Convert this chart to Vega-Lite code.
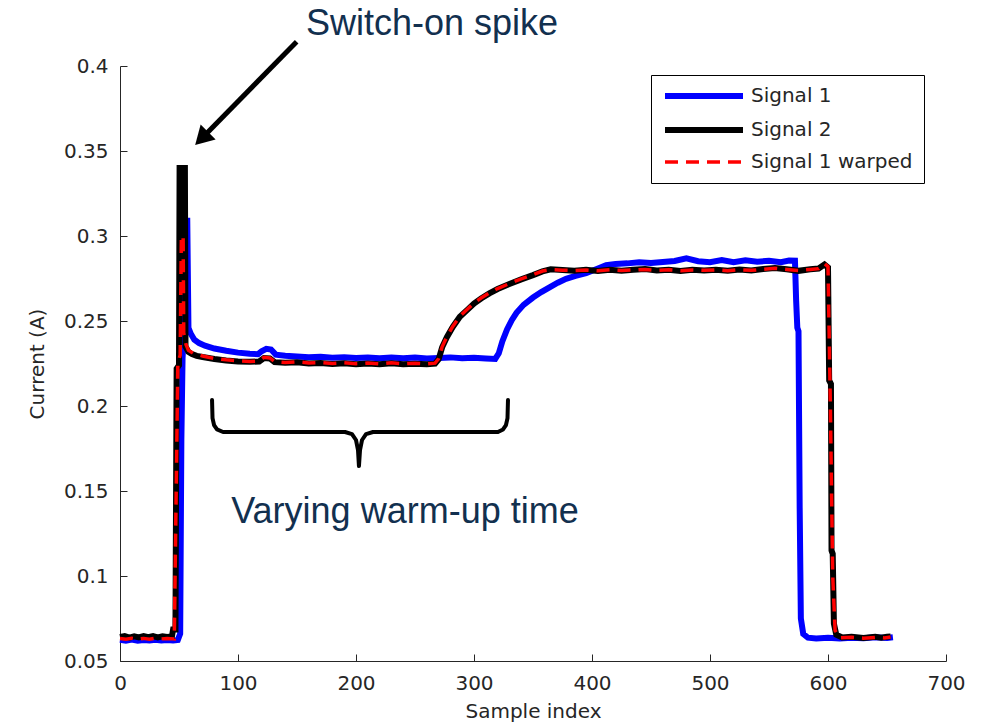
{
  "$schema": "https://vega.github.io/schema/vega-lite/v6.json",
  "width": 826,
  "height": 595,
  "autosize": {"type": "none"},
  "padding": {"left": 120, "top": 66, "right": 46, "bottom": 62},
  "background": "white",
  "config": {
    "view": {"stroke": null},
    "axis": {
      "grid": false,
      "domainColor": "#262626",
      "tickColor": "#262626",
      "tickSize": -7,
      "labelPadding": 19,
      "labelFont": "DejaVu Sans",
      "labelFontSize": 20,
      "labelColor": "#262626",
      "labelFlush": false,
      "labelOverlap": false,
      "labelBound": false,
      "titleFont": "DejaVu Sans",
      "titleFontSize": 20,
      "titleFontWeight": "normal",
      "titleColor": "#262626"
    }
  },
  "datasets": {
    "signals": [
      {"series": "Signal 1", "sample": 0, "current": 0.0625},
      {"series": "Signal 1", "sample": 5, "current": 0.062},
      {"series": "Signal 1", "sample": 10, "current": 0.0626},
      {"series": "Signal 1", "sample": 15, "current": 0.0619},
      {"series": "Signal 1", "sample": 20, "current": 0.0624},
      {"series": "Signal 1", "sample": 25, "current": 0.062},
      {"series": "Signal 1", "sample": 30, "current": 0.0625},
      {"series": "Signal 1", "sample": 35, "current": 0.0621},
      {"series": "Signal 1", "sample": 40, "current": 0.0624},
      {"series": "Signal 1", "sample": 45, "current": 0.062},
      {"series": "Signal 1", "sample": 49, "current": 0.0624},
      {"series": "Signal 1", "sample": 51, "current": 0.066},
      {"series": "Signal 1", "sample": 52, "current": 0.18},
      {"series": "Signal 1", "sample": 53, "current": 0.228},
      {"series": "Signal 1", "sample": 54, "current": 0.24},
      {"series": "Signal 1", "sample": 55, "current": 0.309},
      {"series": "Signal 1", "sample": 57, "current": 0.309},
      {"series": "Signal 1", "sample": 58, "current": 0.246},
      {"series": "Signal 1", "sample": 60, "current": 0.2425},
      {"series": "Signal 1", "sample": 63, "current": 0.239},
      {"series": "Signal 1", "sample": 67, "current": 0.237},
      {"series": "Signal 1", "sample": 72, "current": 0.2355},
      {"series": "Signal 1", "sample": 80, "current": 0.2338},
      {"series": "Signal 1", "sample": 90, "current": 0.2325},
      {"series": "Signal 1", "sample": 100, "current": 0.2314},
      {"series": "Signal 1", "sample": 110, "current": 0.2307},
      {"series": "Signal 1", "sample": 117, "current": 0.2305},
      {"series": "Signal 1", "sample": 120, "current": 0.2322},
      {"series": "Signal 1", "sample": 124, "current": 0.2336},
      {"series": "Signal 1", "sample": 128, "current": 0.2332},
      {"series": "Signal 1", "sample": 132, "current": 0.2302},
      {"series": "Signal 1", "sample": 140, "current": 0.2296},
      {"series": "Signal 1", "sample": 150, "current": 0.2291},
      {"series": "Signal 1", "sample": 160, "current": 0.2287},
      {"series": "Signal 1", "sample": 170, "current": 0.2289},
      {"series": "Signal 1", "sample": 180, "current": 0.2284},
      {"series": "Signal 1", "sample": 190, "current": 0.2287},
      {"series": "Signal 1", "sample": 200, "current": 0.2282},
      {"series": "Signal 1", "sample": 210, "current": 0.2285},
      {"series": "Signal 1", "sample": 220, "current": 0.2281},
      {"series": "Signal 1", "sample": 230, "current": 0.2285},
      {"series": "Signal 1", "sample": 240, "current": 0.2281},
      {"series": "Signal 1", "sample": 250, "current": 0.2285},
      {"series": "Signal 1", "sample": 260, "current": 0.228},
      {"series": "Signal 1", "sample": 270, "current": 0.2283},
      {"series": "Signal 1", "sample": 280, "current": 0.2286},
      {"series": "Signal 1", "sample": 290, "current": 0.2281},
      {"series": "Signal 1", "sample": 300, "current": 0.2284},
      {"series": "Signal 1", "sample": 310, "current": 0.228},
      {"series": "Signal 1", "sample": 318, "current": 0.2277},
      {"series": "Signal 1", "sample": 321, "current": 0.231},
      {"series": "Signal 1", "sample": 324, "current": 0.238},
      {"series": "Signal 1", "sample": 328, "current": 0.245},
      {"series": "Signal 1", "sample": 332, "current": 0.2505},
      {"series": "Signal 1", "sample": 336, "current": 0.2548},
      {"series": "Signal 1", "sample": 342, "current": 0.2595},
      {"series": "Signal 1", "sample": 350, "current": 0.2638},
      {"series": "Signal 1", "sample": 357, "current": 0.267},
      {"series": "Signal 1", "sample": 364, "current": 0.2698},
      {"series": "Signal 1", "sample": 371, "current": 0.2725},
      {"series": "Signal 1", "sample": 378, "current": 0.2748},
      {"series": "Signal 1", "sample": 386, "current": 0.2765},
      {"series": "Signal 1", "sample": 395, "current": 0.2782},
      {"series": "Signal 1", "sample": 404, "current": 0.2806},
      {"series": "Signal 1", "sample": 412, "current": 0.2828},
      {"series": "Signal 1", "sample": 420, "current": 0.2836},
      {"series": "Signal 1", "sample": 430, "current": 0.2839},
      {"series": "Signal 1", "sample": 440, "current": 0.2846},
      {"series": "Signal 1", "sample": 450, "current": 0.2841},
      {"series": "Signal 1", "sample": 460, "current": 0.2847},
      {"series": "Signal 1", "sample": 470, "current": 0.2853},
      {"series": "Signal 1", "sample": 480, "current": 0.2868},
      {"series": "Signal 1", "sample": 490, "current": 0.2852},
      {"series": "Signal 1", "sample": 500, "current": 0.2846},
      {"series": "Signal 1", "sample": 510, "current": 0.2859},
      {"series": "Signal 1", "sample": 520, "current": 0.2846},
      {"series": "Signal 1", "sample": 530, "current": 0.2857},
      {"series": "Signal 1", "sample": 540, "current": 0.2849},
      {"series": "Signal 1", "sample": 550, "current": 0.2854},
      {"series": "Signal 1", "sample": 560, "current": 0.2846},
      {"series": "Signal 1", "sample": 567, "current": 0.2856},
      {"series": "Signal 1", "sample": 572, "current": 0.2855},
      {"series": "Signal 1", "sample": 573, "current": 0.262},
      {"series": "Signal 1", "sample": 574, "current": 0.246},
      {"series": "Signal 1", "sample": 575, "current": 0.244},
      {"series": "Signal 1", "sample": 576, "current": 0.14},
      {"series": "Signal 1", "sample": 577, "current": 0.075},
      {"series": "Signal 1", "sample": 579, "current": 0.066},
      {"series": "Signal 1", "sample": 583, "current": 0.0637},
      {"series": "Signal 1", "sample": 590, "current": 0.0633},
      {"series": "Signal 1", "sample": 600, "current": 0.0637},
      {"series": "Signal 1", "sample": 610, "current": 0.0632},
      {"series": "Signal 1", "sample": 620, "current": 0.0637},
      {"series": "Signal 1", "sample": 630, "current": 0.0634},
      {"series": "Signal 1", "sample": 640, "current": 0.0639},
      {"series": "Signal 1", "sample": 650, "current": 0.0636},
      {"series": "Signal 1", "sample": 655, "current": 0.064},

      {"series": "Signal 2", "sample": 0, "current": 0.0641},
      {"series": "Signal 2", "sample": 4, "current": 0.0646},
      {"series": "Signal 2", "sample": 8, "current": 0.0638},
      {"series": "Signal 2", "sample": 12, "current": 0.0645},
      {"series": "Signal 2", "sample": 16, "current": 0.0639},
      {"series": "Signal 2", "sample": 20, "current": 0.0647},
      {"series": "Signal 2", "sample": 24, "current": 0.064},
      {"series": "Signal 2", "sample": 28, "current": 0.0646},
      {"series": "Signal 2", "sample": 32, "current": 0.0639},
      {"series": "Signal 2", "sample": 36, "current": 0.0645},
      {"series": "Signal 2", "sample": 40, "current": 0.0641},
      {"series": "Signal 2", "sample": 44, "current": 0.0644},
      {"series": "Signal 2", "sample": 45, "current": 0.0685},
      {"series": "Signal 2", "sample": 47, "current": 0.0685},
      {"series": "Signal 2", "sample": 48, "current": 0.222},
      {"series": "Signal 2", "sample": 50, "current": 0.224},
      {"series": "Signal 2", "sample": 50.5, "current": 0.34},
      {"series": "Signal 2", "sample": 55, "current": 0.34},
      {"series": "Signal 2", "sample": 55.5, "current": 0.235},
      {"series": "Signal 2", "sample": 58, "current": 0.2318},
      {"series": "Signal 2", "sample": 61, "current": 0.2305},
      {"series": "Signal 2", "sample": 65, "current": 0.2295},
      {"series": "Signal 2", "sample": 70, "current": 0.2288},
      {"series": "Signal 2", "sample": 80, "current": 0.2276},
      {"series": "Signal 2", "sample": 90, "current": 0.2268},
      {"series": "Signal 2", "sample": 100, "current": 0.2262},
      {"series": "Signal 2", "sample": 110, "current": 0.226},
      {"series": "Signal 2", "sample": 118, "current": 0.2262},
      {"series": "Signal 2", "sample": 122, "current": 0.2282},
      {"series": "Signal 2", "sample": 127, "current": 0.228},
      {"series": "Signal 2", "sample": 131, "current": 0.2258},
      {"series": "Signal 2", "sample": 140, "current": 0.2254},
      {"series": "Signal 2", "sample": 150, "current": 0.2257},
      {"series": "Signal 2", "sample": 160, "current": 0.225},
      {"series": "Signal 2", "sample": 170, "current": 0.2253},
      {"series": "Signal 2", "sample": 180, "current": 0.2247},
      {"series": "Signal 2", "sample": 190, "current": 0.2251},
      {"series": "Signal 2", "sample": 200, "current": 0.2246},
      {"series": "Signal 2", "sample": 210, "current": 0.225},
      {"series": "Signal 2", "sample": 220, "current": 0.2245},
      {"series": "Signal 2", "sample": 230, "current": 0.2251},
      {"series": "Signal 2", "sample": 240, "current": 0.2246},
      {"series": "Signal 2", "sample": 250, "current": 0.2249},
      {"series": "Signal 2", "sample": 260, "current": 0.2245},
      {"series": "Signal 2", "sample": 267, "current": 0.2249},
      {"series": "Signal 2", "sample": 270, "current": 0.2275},
      {"series": "Signal 2", "sample": 273, "current": 0.2345},
      {"series": "Signal 2", "sample": 277, "current": 0.2405},
      {"series": "Signal 2", "sample": 282, "current": 0.2465},
      {"series": "Signal 2", "sample": 288, "current": 0.2525},
      {"series": "Signal 2", "sample": 295, "current": 0.257},
      {"series": "Signal 2", "sample": 300, "current": 0.2603},
      {"series": "Signal 2", "sample": 306, "current": 0.2632},
      {"series": "Signal 2", "sample": 313, "current": 0.2662},
      {"series": "Signal 2", "sample": 320, "current": 0.2688},
      {"series": "Signal 2", "sample": 330, "current": 0.2718},
      {"series": "Signal 2", "sample": 340, "current": 0.2745},
      {"series": "Signal 2", "sample": 350, "current": 0.277},
      {"series": "Signal 2", "sample": 358, "current": 0.2792},
      {"series": "Signal 2", "sample": 365, "current": 0.2804},
      {"series": "Signal 2", "sample": 375, "current": 0.28},
      {"series": "Signal 2", "sample": 385, "current": 0.2796},
      {"series": "Signal 2", "sample": 395, "current": 0.2801},
      {"series": "Signal 2", "sample": 405, "current": 0.2794},
      {"series": "Signal 2", "sample": 415, "current": 0.2802},
      {"series": "Signal 2", "sample": 425, "current": 0.2796},
      {"series": "Signal 2", "sample": 435, "current": 0.2801},
      {"series": "Signal 2", "sample": 445, "current": 0.2806},
      {"series": "Signal 2", "sample": 455, "current": 0.2797},
      {"series": "Signal 2", "sample": 465, "current": 0.2802},
      {"series": "Signal 2", "sample": 475, "current": 0.2794},
      {"series": "Signal 2", "sample": 485, "current": 0.2801},
      {"series": "Signal 2", "sample": 495, "current": 0.2797},
      {"series": "Signal 2", "sample": 505, "current": 0.2802},
      {"series": "Signal 2", "sample": 515, "current": 0.2795},
      {"series": "Signal 2", "sample": 525, "current": 0.2803},
      {"series": "Signal 2", "sample": 535, "current": 0.2797},
      {"series": "Signal 2", "sample": 545, "current": 0.2806},
      {"series": "Signal 2", "sample": 555, "current": 0.2812},
      {"series": "Signal 2", "sample": 565, "current": 0.2804},
      {"series": "Signal 2", "sample": 575, "current": 0.2795},
      {"series": "Signal 2", "sample": 585, "current": 0.2804},
      {"series": "Signal 2", "sample": 592, "current": 0.2809},
      {"series": "Signal 2", "sample": 597, "current": 0.2832},
      {"series": "Signal 2", "sample": 600, "current": 0.2815},
      {"series": "Signal 2", "sample": 601, "current": 0.215},
      {"series": "Signal 2", "sample": 602.5, "current": 0.213},
      {"series": "Signal 2", "sample": 603, "current": 0.115},
      {"series": "Signal 2", "sample": 604, "current": 0.113},
      {"series": "Signal 2", "sample": 605, "current": 0.072},
      {"series": "Signal 2", "sample": 607, "current": 0.0655},
      {"series": "Signal 2", "sample": 612, "current": 0.0638},
      {"series": "Signal 2", "sample": 620, "current": 0.0643},
      {"series": "Signal 2", "sample": 630, "current": 0.0636},
      {"series": "Signal 2", "sample": 640, "current": 0.0642},
      {"series": "Signal 2", "sample": 645, "current": 0.0637},
      {"series": "Signal 2", "sample": 650, "current": 0.0643},
      {"series": "Signal 2", "sample": 653, "current": 0.0644},

      {"series": "Signal 1 warped", "sample": 0, "current": 0.0632},
      {"series": "Signal 1 warped", "sample": 5, "current": 0.0628},
      {"series": "Signal 1 warped", "sample": 10, "current": 0.0634},
      {"series": "Signal 1 warped", "sample": 15, "current": 0.0629},
      {"series": "Signal 1 warped", "sample": 20, "current": 0.0633},
      {"series": "Signal 1 warped", "sample": 25, "current": 0.0628},
      {"series": "Signal 1 warped", "sample": 30, "current": 0.0634},
      {"series": "Signal 1 warped", "sample": 35, "current": 0.063},
      {"series": "Signal 1 warped", "sample": 40, "current": 0.0633},
      {"series": "Signal 1 warped", "sample": 46, "current": 0.063},
      {"series": "Signal 1 warped", "sample": 48, "current": 0.17},
      {"series": "Signal 1 warped", "sample": 49, "current": 0.225},
      {"series": "Signal 1 warped", "sample": 51, "current": 0.23},
      {"series": "Signal 1 warped", "sample": 52, "current": 0.3},
      {"series": "Signal 1 warped", "sample": 53.5, "current": 0.3},
      {"series": "Signal 1 warped", "sample": 54, "current": 0.243},
      {"series": "Signal 1 warped", "sample": 56, "current": 0.236},
      {"series": "Signal 1 warped", "sample": 58, "current": 0.2328},
      {"series": "Signal 1 warped", "sample": 62, "current": 0.231},
      {"series": "Signal 1 warped", "sample": 70, "current": 0.2294},
      {"series": "Signal 1 warped", "sample": 80, "current": 0.228},
      {"series": "Signal 1 warped", "sample": 90, "current": 0.2272},
      {"series": "Signal 1 warped", "sample": 100, "current": 0.2266},
      {"series": "Signal 1 warped", "sample": 110, "current": 0.2262},
      {"series": "Signal 1 warped", "sample": 118, "current": 0.2265},
      {"series": "Signal 1 warped", "sample": 122, "current": 0.2286},
      {"series": "Signal 1 warped", "sample": 127, "current": 0.2283},
      {"series": "Signal 1 warped", "sample": 131, "current": 0.2261},
      {"series": "Signal 1 warped", "sample": 140, "current": 0.2256},
      {"series": "Signal 1 warped", "sample": 150, "current": 0.226},
      {"series": "Signal 1 warped", "sample": 160, "current": 0.2253},
      {"series": "Signal 1 warped", "sample": 170, "current": 0.2256},
      {"series": "Signal 1 warped", "sample": 180, "current": 0.225},
      {"series": "Signal 1 warped", "sample": 190, "current": 0.2254},
      {"series": "Signal 1 warped", "sample": 200, "current": 0.2249},
      {"series": "Signal 1 warped", "sample": 210, "current": 0.2253},
      {"series": "Signal 1 warped", "sample": 220, "current": 0.2248},
      {"series": "Signal 1 warped", "sample": 230, "current": 0.2254},
      {"series": "Signal 1 warped", "sample": 240, "current": 0.2249},
      {"series": "Signal 1 warped", "sample": 250, "current": 0.2252},
      {"series": "Signal 1 warped", "sample": 260, "current": 0.2248},
      {"series": "Signal 1 warped", "sample": 267, "current": 0.2252},
      {"series": "Signal 1 warped", "sample": 270, "current": 0.2278},
      {"series": "Signal 1 warped", "sample": 273, "current": 0.2348},
      {"series": "Signal 1 warped", "sample": 277, "current": 0.2408},
      {"series": "Signal 1 warped", "sample": 282, "current": 0.2468},
      {"series": "Signal 1 warped", "sample": 288, "current": 0.2528},
      {"series": "Signal 1 warped", "sample": 295, "current": 0.2573},
      {"series": "Signal 1 warped", "sample": 300, "current": 0.2606},
      {"series": "Signal 1 warped", "sample": 306, "current": 0.2635},
      {"series": "Signal 1 warped", "sample": 313, "current": 0.2665},
      {"series": "Signal 1 warped", "sample": 320, "current": 0.2691},
      {"series": "Signal 1 warped", "sample": 330, "current": 0.272},
      {"series": "Signal 1 warped", "sample": 340, "current": 0.2748},
      {"series": "Signal 1 warped", "sample": 350, "current": 0.2772},
      {"series": "Signal 1 warped", "sample": 358, "current": 0.2794},
      {"series": "Signal 1 warped", "sample": 365, "current": 0.2802},
      {"series": "Signal 1 warped", "sample": 375, "current": 0.2799},
      {"series": "Signal 1 warped", "sample": 385, "current": 0.2797},
      {"series": "Signal 1 warped", "sample": 395, "current": 0.28},
      {"series": "Signal 1 warped", "sample": 405, "current": 0.2795},
      {"series": "Signal 1 warped", "sample": 415, "current": 0.2801},
      {"series": "Signal 1 warped", "sample": 425, "current": 0.2797},
      {"series": "Signal 1 warped", "sample": 435, "current": 0.28},
      {"series": "Signal 1 warped", "sample": 445, "current": 0.2803},
      {"series": "Signal 1 warped", "sample": 455, "current": 0.2798},
      {"series": "Signal 1 warped", "sample": 465, "current": 0.2801},
      {"series": "Signal 1 warped", "sample": 475, "current": 0.2796},
      {"series": "Signal 1 warped", "sample": 485, "current": 0.28},
      {"series": "Signal 1 warped", "sample": 495, "current": 0.2798},
      {"series": "Signal 1 warped", "sample": 505, "current": 0.2801},
      {"series": "Signal 1 warped", "sample": 515, "current": 0.2796},
      {"series": "Signal 1 warped", "sample": 525, "current": 0.2802},
      {"series": "Signal 1 warped", "sample": 535, "current": 0.2798},
      {"series": "Signal 1 warped", "sample": 545, "current": 0.2804},
      {"series": "Signal 1 warped", "sample": 555, "current": 0.281},
      {"series": "Signal 1 warped", "sample": 565, "current": 0.2803},
      {"series": "Signal 1 warped", "sample": 575, "current": 0.2797},
      {"series": "Signal 1 warped", "sample": 585, "current": 0.2803},
      {"series": "Signal 1 warped", "sample": 592, "current": 0.2808},
      {"series": "Signal 1 warped", "sample": 597, "current": 0.2838},
      {"series": "Signal 1 warped", "sample": 600, "current": 0.282},
      {"series": "Signal 1 warped", "sample": 602, "current": 0.2},
      {"series": "Signal 1 warped", "sample": 604, "current": 0.1},
      {"series": "Signal 1 warped", "sample": 606, "current": 0.068},
      {"series": "Signal 1 warped", "sample": 610, "current": 0.0636},
      {"series": "Signal 1 warped", "sample": 620, "current": 0.064},
      {"series": "Signal 1 warped", "sample": 630, "current": 0.0634},
      {"series": "Signal 1 warped", "sample": 640, "current": 0.0639},
      {"series": "Signal 1 warped", "sample": 648, "current": 0.0636},
      {"series": "Signal 1 warped", "sample": 653, "current": 0.0641}
    ],
    "arrow": [
      {"sample": 149.7, "current": 0.4143, "order": 1},
      {"sample": 69.2, "current": 0.3573, "order": 2}
    ],
    "arrowhead": [
      {"sample": 69.2, "current": 0.3573}
    ],
    "brace": [
      {"order": 1, "sample": 78.0, "current": 0.2035},
      {"order": 2, "sample": 78.4, "current": 0.1929},
      {"order": 3, "sample": 79.7, "current": 0.1888},
      {"order": 4, "sample": 82.2, "current": 0.1862},
      {"order": 5, "sample": 87.3, "current": 0.1847},
      {"order": 6, "sample": 190.7, "current": 0.1847},
      {"order": 7, "sample": 196.6, "current": 0.1835},
      {"order": 8, "sample": 200.0, "current": 0.18},
      {"order": 9, "sample": 201.7, "current": 0.1741},
      {"order": 10, "sample": 202.5, "current": 0.1647},
      {"order": 11, "sample": 203.4, "current": 0.1741},
      {"order": 12, "sample": 205.1, "current": 0.18},
      {"order": 13, "sample": 208.5, "current": 0.1835},
      {"order": 14, "sample": 214.4, "current": 0.1847},
      {"order": 15, "sample": 320.3, "current": 0.1847},
      {"order": 16, "sample": 324.6, "current": 0.1862},
      {"order": 17, "sample": 327.1, "current": 0.1888},
      {"order": 18, "sample": 328.4, "current": 0.1929},
      {"order": 19, "sample": 328.8, "current": 0.2035}
    ],
    "notes": [
      {"sample": 264.4, "current": 0.4182, "text": "Switch-on spike"},
      {"sample": 241.5, "current": 0.1312, "text": "Varying warm-up time"}
    ]
  },
  "layer": [
    {
      "data": {"name": "signals"},
      "transform": [{"filter": "datum.series === 'Signal 1'"}],
      "mark": {"type": "line", "strokeWidth": 6},
      "encoding": {
        "x": {"field": "sample", "type": "quantitative", "title": "Sample index",
              "scale": {"domain": [0, 700], "nice": false},
              "axis": {"values": [0, 100, 200, 300, 400, 500, 600, 700], "format": "d", "titlePadding": 8}},
        "y": {"field": "current", "type": "quantitative", "title": "Current (A)",
              "scale": {"domain": [0.05, 0.4], "nice": false, "zero": false},
              "axis": {"values": [0.05, 0.1, 0.15, 0.2, 0.25, 0.3, 0.35, 0.4], "format": ".2~f", "titlePadding": 16}},
        "color": {"field": "series", "type": "nominal",
                  "scale": {"domain": ["Signal 1", "Signal 2", "Signal 1 warped"], "range": ["#0000ff", "#000000", "#ff0000"]},
                  "legend": {"orient": "none", "legendX": 531, "legendY": 9, "title": null,
                             "symbolType": "stroke", "symbolSize": 6084, "symbolStrokeWidth": 6,
                             "symbolOffset": 32,
                             "labelFont": "DejaVu Sans", "labelFontSize": 20, "labelColor": "#262626",
                             "labelOffset": 37, "labelLimit": 400, "rowPadding": 10, "padding": 11,
                             "strokeColor": "#000000", "fillColor": "#ffffff",
                             "encode": {"symbols": {"update": {
                               "strokeDash": {"signal": "datum.value === 'Signal 1 warped' ? [13, 8] : []"},
                               "strokeWidth": {"signal": "datum.value === 'Signal 1 warped' ? 3.5 : 6"}}}}}}
      }
    },
    {
      "data": {"name": "signals"},
      "transform": [{"filter": "datum.series === 'Signal 2'"}],
      "mark": {"type": "line", "strokeWidth": 6},
      "encoding": {
        "x": {"field": "sample", "type": "quantitative", "title": "Sample index", "scale": {"domain": [0, 700], "nice": false}},
        "y": {"field": "current", "type": "quantitative", "title": "Current (A)", "scale": {"domain": [0.05, 0.4], "nice": false, "zero": false}},
        "color": {"field": "series", "type": "nominal",
                  "scale": {"domain": ["Signal 1", "Signal 2", "Signal 1 warped"], "range": ["#0000ff", "#000000", "#ff0000"]}}
      }
    },
    {
      "data": {"name": "signals"},
      "transform": [{"filter": "datum.series === 'Signal 1 warped'"}],
      "mark": {"type": "line", "strokeWidth": 3.5, "strokeDash": [13, 8]},
      "encoding": {
        "x": {"field": "sample", "type": "quantitative", "title": "Sample index", "scale": {"domain": [0, 700], "nice": false}},
        "y": {"field": "current", "type": "quantitative", "title": "Current (A)", "scale": {"domain": [0.05, 0.4], "nice": false, "zero": false}},
        "color": {"field": "series", "type": "nominal",
                  "scale": {"domain": ["Signal 1", "Signal 2", "Signal 1 warped"], "range": ["#0000ff", "#000000", "#ff0000"]}}
      }
    },
    {
      "data": {"name": "arrow"},
      "mark": {"type": "line", "color": "#000000", "strokeWidth": 5, "clip": false},
      "encoding": {
        "x": {"field": "sample", "type": "quantitative", "title": "Sample index", "scale": {"domain": [0, 700], "nice": false}},
        "y": {"field": "current", "type": "quantitative", "title": "Current (A)", "scale": {"domain": [0.05, 0.4], "nice": false, "zero": false}},
        "order": {"field": "order"}
      }
    },
    {
      "data": {"name": "arrowhead"},
      "mark": {"type": "point", "shape": "triangle-up", "angle": 225, "size": 450, "filled": true, "color": "#000000", "opacity": 1},
      "encoding": {
        "x": {"field": "sample", "type": "quantitative", "title": "Sample index", "scale": {"domain": [0, 700], "nice": false}},
        "y": {"field": "current", "type": "quantitative", "title": "Current (A)", "scale": {"domain": [0.05, 0.4], "nice": false, "zero": false}}
      }
    },
    {
      "data": {"name": "brace"},
      "mark": {"type": "line", "color": "#000000", "strokeWidth": 4, "strokeCap": "round", "strokeJoin": "round"},
      "encoding": {
        "x": {"field": "sample", "type": "quantitative", "title": "Sample index", "scale": {"domain": [0, 700], "nice": false}},
        "y": {"field": "current", "type": "quantitative", "title": "Current (A)", "scale": {"domain": [0.05, 0.4], "nice": false, "zero": false}},
        "order": {"field": "order"}
      }
    },
    {
      "data": {"name": "notes"},
      "mark": {"type": "text", "font": "Liberation Sans", "fontSize": 36, "color": "#12304f", "align": "center", "baseline": "alphabetic"},
      "encoding": {
        "x": {"field": "sample", "type": "quantitative", "title": "Sample index", "scale": {"domain": [0, 700], "nice": false}},
        "y": {"field": "current", "type": "quantitative", "title": "Current (A)", "scale": {"domain": [0.05, 0.4], "nice": false, "zero": false}},
        "text": {"field": "text"}
      }
    }
  ]
}
